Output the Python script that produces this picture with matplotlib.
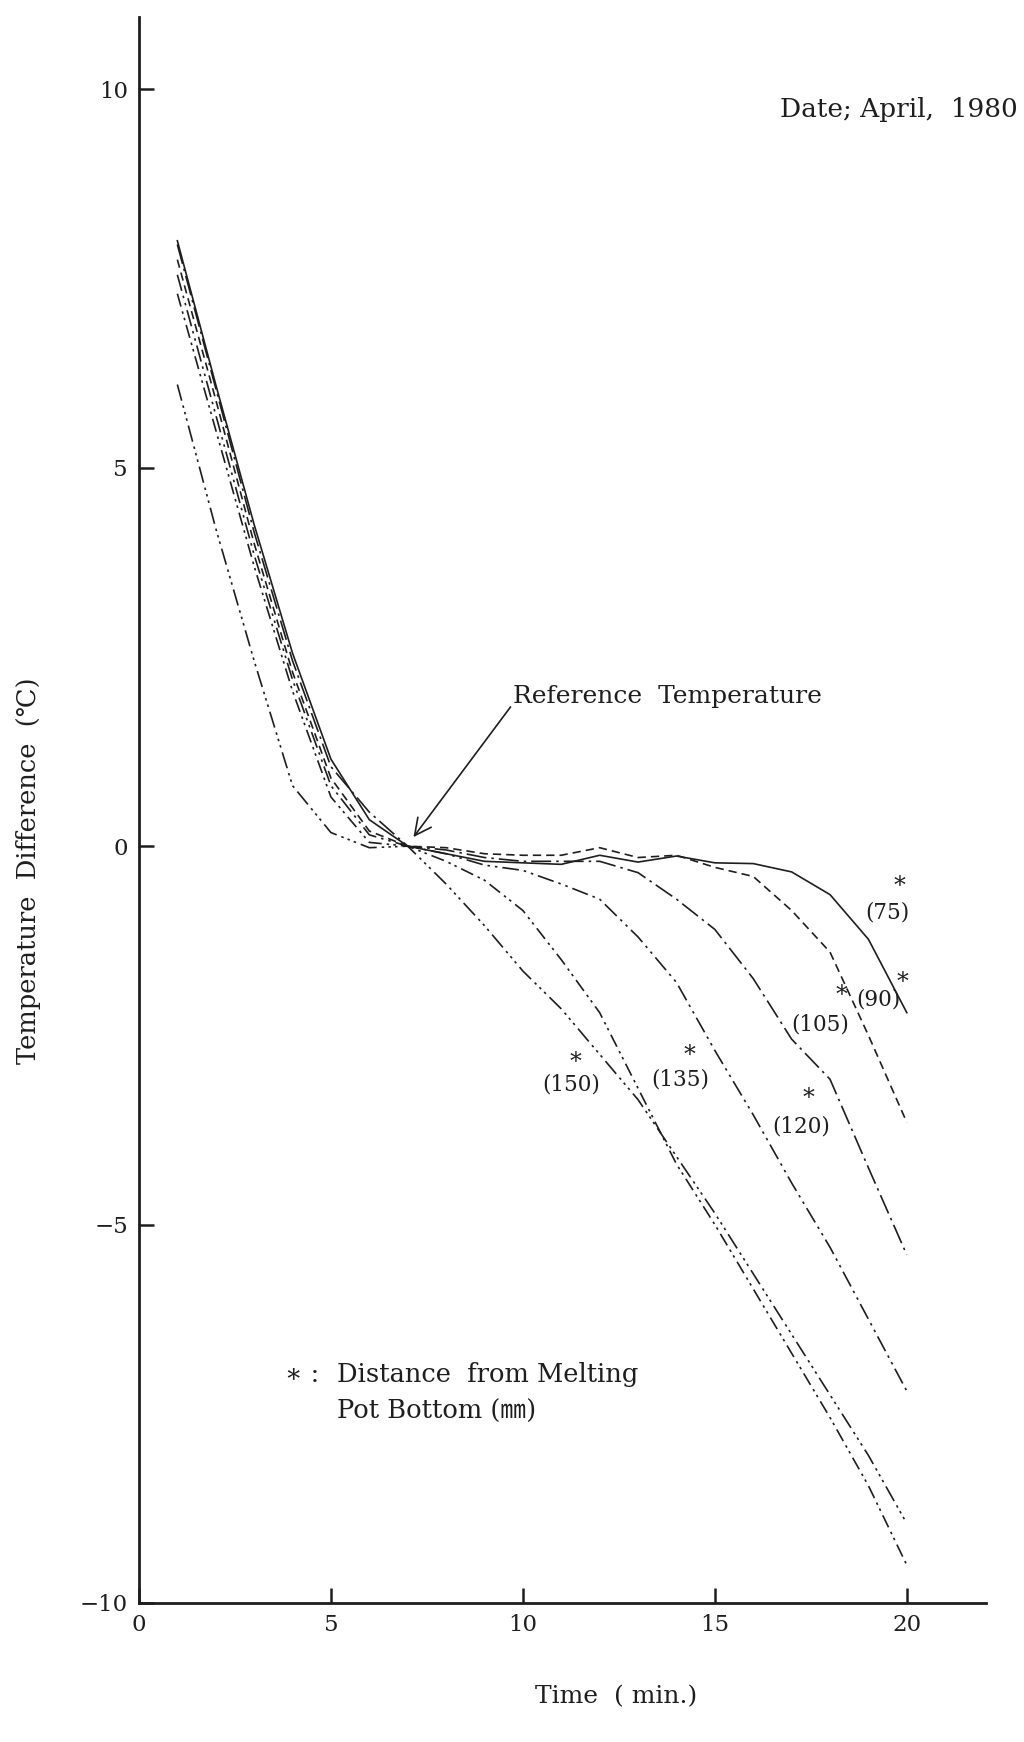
"""Temperature difference vs time at several depths in the melting pot (April 1980)."""
import matplotlib
matplotlib.use('Agg')
import matplotlib.pyplot as plt

plt.rcParams['font.family'] = ['DejaVu Serif', 'Noto Sans CJK JP']

# time (min)
time_min = list(range(1, 21))

# temperature difference (deg C) by distance from pot bottom (mm)
d75 = [8.0, 6.1, 4.25, 2.55, 1.15, 0.35, 0.0, -0.1, -0.2, -0.22, -0.24, -0.12, -0.21, -0.13, -0.22, -0.23, -0.34, -0.64, -1.23, -2.2]
d90 = [7.75, 5.9, 4.0, 2.3, 0.9, 0.2, 0.0, -0.02, -0.1, -0.12, -0.12, -0.02, -0.15, -0.12, -0.28, -0.4, -0.85, -1.4, -2.5, -3.65]
d105 = [7.95, 6.05, 4.15, 2.45, 1.05, 0.45, 0.0, -0.05, -0.15, -0.2, -0.2, -0.2, -0.35, -0.7, -1.1, -1.75, -2.55, -3.08, -4.25, -5.4]
d120 = [7.55, 5.7, 3.85, 2.2, 0.8, 0.15, 0.0, -0.1, -0.25, -0.32, -0.5, -0.7, -1.2, -1.8, -2.7, -3.55, -4.45, -5.3, -6.25, -7.2]
d135 = [7.3, 5.5, 3.7, 2.05, 0.65, 0.05, 0.0, -0.2, -0.45, -0.85, -1.5, -2.2, -3.2, -4.2, -5.0, -5.85, -6.7, -7.55, -8.45, -9.5]
d150 = [6.1, 4.2, 2.45, 0.8, 0.18, -0.02, 0.0, -0.5, -1.05, -1.65, -2.15, -2.75, -3.35, -4.1, -4.85, -5.65, -6.45, -7.25, -8.05, -8.95]

depth_labels = ['(75)', '(90)', '(105)', '(120)', '(135)', '(150)']
label_t = [19.5, 19.25, 17.75, 17.25, 14.1, 11.25]
label_v = [-0.88, -2.02, -2.36, -3.7, -3.08, -3.15]
star_t = [19.8, 19.88, 18.3, 17.43, 14.34, 11.38]
star_v = [-0.53, -1.8, -1.97, -3.34, -2.76, -2.86]

x_ticks = [0, 5, 10, 15, 20]
y_ticks = [-10, -5, 0, 5, 10]

series = [d75, d90, d105, d120, d135, d150]
styles = ['-', (0, (5, 3)), (0, (12, 3, 1.5, 3)), (0, (10, 3, 1.5, 3, 1.5, 3)),
          (0, (8, 3, 1.5, 2.5, 1.5, 3)), (0, (10, 3, 1.5, 2.5, 1.5, 2.5, 1.5, 3))]

fig = plt.figure(figsize=(10.24, 17.42), dpi=100)
ax = fig.add_axes([0.1357, 0.0798, 0.8271, 0.9106])

for vals, ls in zip(series, styles):
    ax.plot(time_min, vals, color='#1e1e1e', lw=1.2, linestyle=ls)

for txt, lt, lv, st, sv in zip(depth_labels, label_t, label_v, star_t, star_v):
    ax.text(lt, lv, txt, ha='center', va='center', fontsize=15.5, color='#1e1e1e')
    ax.text(st, sv, '*', ha='center', va='center', fontsize=17, color='#1e1e1e')

ax.annotate('Reference  Temperature', xy=(7.15, 0.12), xytext=(9.75, 1.98),
            fontsize=18, va='center', ha='left', color='#1e1e1e',
            arrowprops=dict(arrowstyle='->', lw=1.2, color='#1e1e1e', mutation_scale=30,
                            shrinkA=0, shrinkB=0, relpos=(0, 0.2)))

ax.set_xlim(0, 22.06)
ax.set_ylim(-10, 10.96)
ax.set_xticks(x_ticks)
ax.set_yticks(y_ticks)
for s in ['top', 'right']:
    ax.spines[s].set_visible(False)
for s in ['left', 'bottom']:
    ax.spines[s].set_linewidth(2.0)
    ax.spines[s].set_color('#1e1e1e')
ax.tick_params(direction='in', length=11, width=1.8, labelsize=16.5, pad=8, colors='#1e1e1e')

fig.text(0.028, 0.50, 'Temperature  Difference  (℃)', rotation=90, ha='center', va='center', fontsize=18.5, color='#1e1e1e')
fig.text(0.602, 0.026, 'Time  ( min.)', ha='center', va='center', fontsize=18, color='#1e1e1e')
fig.text(0.994, 0.937, 'Date; April,  1980', ha='right', va='center', fontsize=19, color='#1e1e1e')
fig.text(0.278, 0.211, '∗ :', ha='left', va='center', fontsize=18.5, color='#1e1e1e')
fig.text(0.329, 0.211, 'Distance  from Melting', ha='left', va='center', fontsize=18.5, color='#1e1e1e')
fig.text(0.329, 0.190, 'Pot Bottom (㎜)', ha='left', va='center', fontsize=18.5, color='#1e1e1e')

fig.savefig('out.png', dpi=100)
